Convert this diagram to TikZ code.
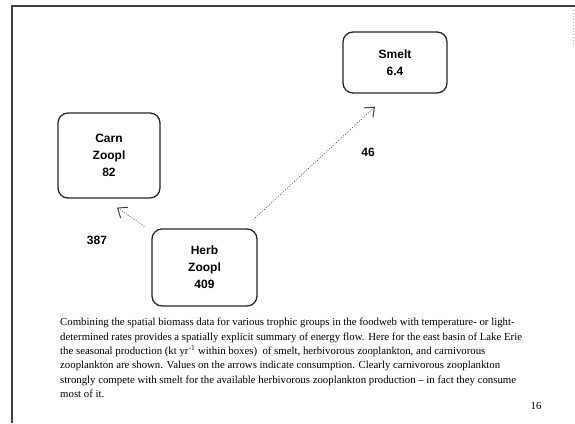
\documentclass[tikz,border=0pt]{standalone}
\usepackage{fontspec}
\setmainfont{Liberation Serif}
\newfontfamily\arialfont{Liberation Sans}
\usetikzlibrary{arrows.meta}

\begin{document}
\begin{tikzpicture}[x=1pt, y=-1pt,
    pool/.style={draw=black!85, line width=1.3pt, rounded corners=10pt, align=center, inner sep=0pt,
      font=\arialfont\bfseries\fontsize{12}{17}\selectfont},
    flow/.style={black!75, line width=0.75pt, dash pattern=on 0.8pt off 1.6pt,
      -{Straight Barb[length=8pt,width=13pt,line width=1pt]}},
    rate/.style={font=\arialfont\bfseries\fontsize{12}{14}\selectfont}]
      \useasboundingbox (0,0) rectangle (575,423);
      \draw[line width=1.6pt, black!75] (12,423) -- (12,6) -- (575,6);
      \draw[black!30, line width=1pt, dash pattern=on 1pt off 2pt] (573,10) -- (573,45);
      \node[pool, minimum width=104pt, minimum height=61pt] (smelt) at (395,62.5) {Smelt\\6.4};
      \node[pool, minimum width=102pt, minimum height=85pt] (carn) at (109,155.5) {Carn\\Zoopl\\82};
      \node[pool, minimum width=105pt, minimum height=77pt] (herb) at (204.5,267.5) {Herb\\Zoopl\\409};
      \draw[flow] ([shift={(-7,-2)}]herb.north west) -- ([shift={(8,9)}]carn.south);
      \draw[flow] ([shift={(-4,-9)}]herb.north east) -- ([shift={(-20,13)}]smelt.south);
      \node[rate] (c387) at (97,240) {387};
      \node[rate] (c46) at (368,152) {46};
      \node[anchor=north west, inner sep=0pt, align=left, font=\fontsize{10.8}{14.3}\selectfont] (caption) at (60,318)
        {Combining the spatial biomass data for various trophic groups in the foodweb with temperature- or light-\\
         determined rates provides a spatially explicit summary of energy flow. Here for the east basin of Lake Erie\\
         the seasonal production (kt yr\textsuperscript{-1} within boxes)\ \ of smelt, herbivorous zooplankton, and carnivorous\\
         zooplankton are shown. Values on the arrows indicate consumption. Clearly carnivorous zooplankton\\
         strongly compete with smelt for the available herbivorous zooplankton production -- in fact they consume\\
         most of it.};
      \node[font=\fontsize{10.8}{12}\selectfont] (page) at (536,406) {16};
    \end{tikzpicture}
\end{document}
